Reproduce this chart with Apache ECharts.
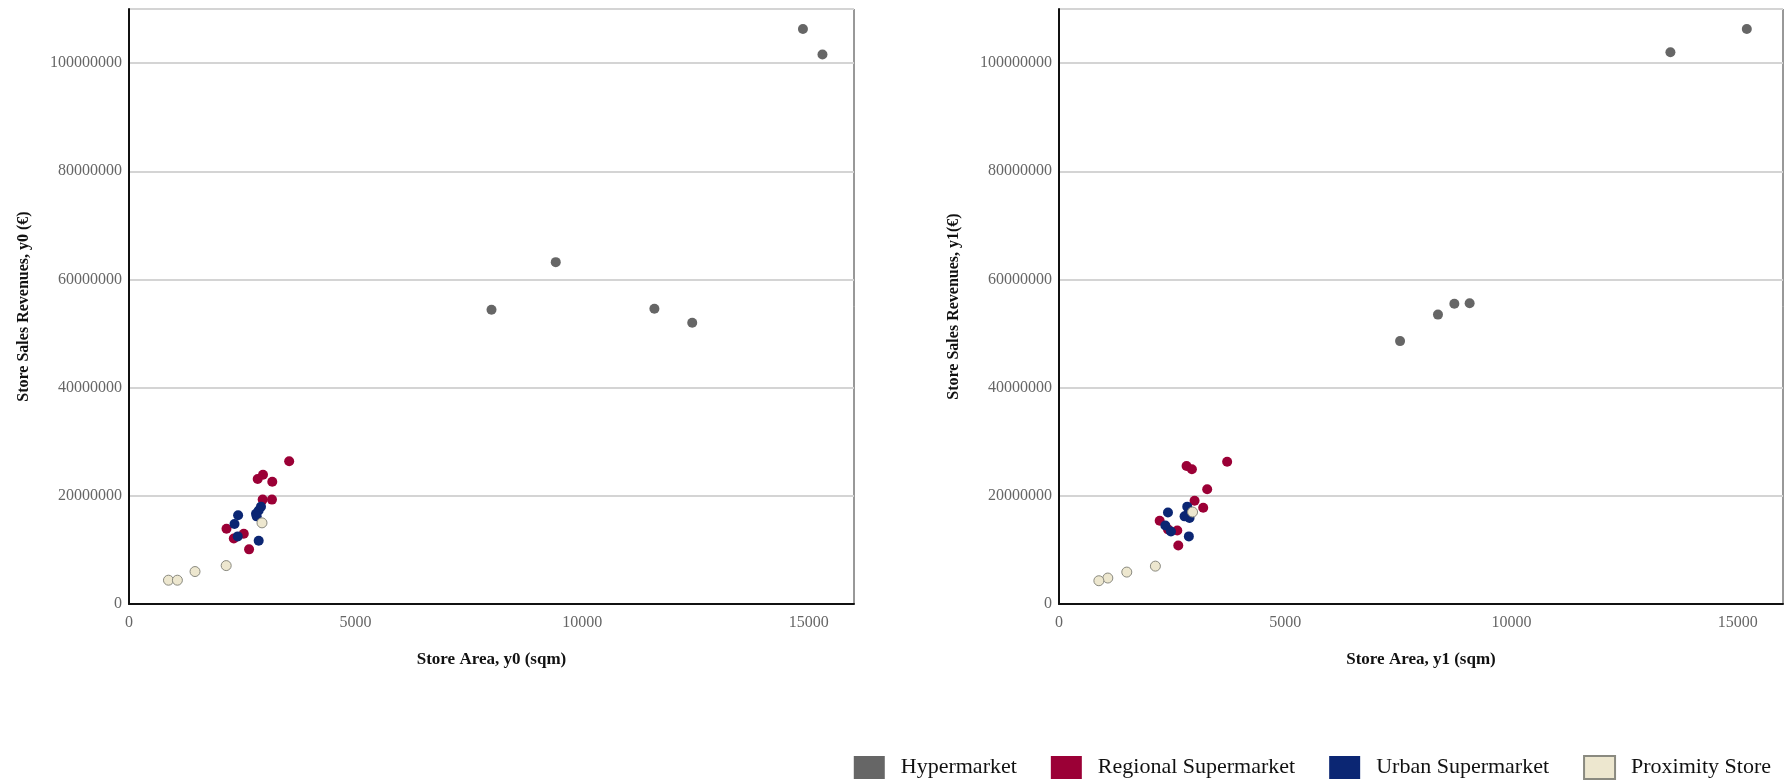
<!DOCTYPE html>
<html>
<head>
<meta charset="utf-8">
<script src="https://cdn.jsdelivr.net/npm/echarts@6/dist/echarts.min.js"></script>
<style>
html,body{margin:0;padding:0;background:#fff;}
#chart{width:1789px;height:784px;}
</style>
</head>
<body>
<div id="chart"></div>
<script>
// ---- data ----
const categories = ['Hypermarket', 'Regional Supermarket', 'Urban Supermarket', 'Proximity Store'];
const colors = ['#666666', '#9b0036', '#0b2673', '#ede7cf'];

// panel y0: [store area (sqm), revenues (€)]
const hyper0 = [[14873,106300000],[15304,101600000],[9418,63200000],[8000,54400000],[11595,54600000],[12430,52000000]];
const regional0 = [[3535,26400000],[2957,23900000],[2840,23100000],[3162,22600000],[2950,19300000],[3155,19300000],[2152,13900000],[2533,13000000],[2313,12100000],[2650,10100000]];
const urban0 = [[2408,16400000],[2328,14800000],[2913,18000000],[2862,17300000],[2803,16700000],[2818,16200000],[2400,12500000],[2862,11700000]];
const prox0 = [[2935,15000000],[2145,7100000],[1457,6000000],[871,4400000],[1068,4400000]];

// panel y1
const hyper1 = [[15200,106300000],[13512,102000000],[9075,55600000],[8737,55500000],[8375,53500000],[7537,48600000]];
const regional1 = [[3716,26300000],[2819,25500000],[2937,24900000],[3275,21200000],[2996,19100000],[3187,17800000],[2225,15400000],[2614,13600000],[2408,13800000],[2636,10800000]];
const urban1 = [[2408,16900000],[2834,18000000],[2775,16200000],[2885,15900000],[2840,16500000],[2350,14500000],[2474,13400000],[2870,12500000]];
const prox1 = [[2952,17000000],[2130,7000000],[1498,5900000],[1079,4800000],[881,4300000]];

const xTitles = ['Store Area, y0 (sqm)', 'Store Area, y1 (sqm)'];
const yTitles = ['Store Sales Revenues, y0 (€)', 'Store Sales Revenues, y1(€)'];

const panels = [[hyper0, regional0, urban0, prox0], [hyper1, regional1, urban1, prox1]];

// ---- chart ----
const FONT = '"Liberation Serif", "Times New Roman", serif';
const chart = echarts.init(document.getElementById('chart'), null, {renderer: 'canvas'});
const plain = v => String(v);

function xAxis(i) {
  return {
    type: 'value', gridIndex: i, min: 0, max: 16000, interval: 5000,
    name: xTitles[i], nameLocation: 'middle', nameGap: 47,
    nameTextStyle: {fontFamily: FONT, fontSize: 17, fontWeight: 'bold', color: '#111'},
    axisLine: {show: true, onZero: false, lineStyle: {color: '#111', width: 2}},
    axisTick: {show: false},
    axisLabel: {fontFamily: FONT, fontSize: 16, color: '#666', margin: 11, showMaxLabel: false, formatter: plain},
    splitLine: {show: false}
  };
}
function yAxis(i) {
  return {
    type: 'value', gridIndex: i, min: 0, max: 110000000, interval: 20000000,
    name: yTitles[i], nameLocation: 'middle', nameGap: 97,
    nameTextStyle: {fontFamily: FONT, fontSize: 16, fontWeight: 'bold', color: '#111'},
    axisLine: {show: true, onZero: false, lineStyle: {color: '#111', width: 2}},
    axisTick: {show: false},
    axisLabel: {fontFamily: FONT, fontSize: 16, color: '#666', margin: 7, showMaxLabel: false, formatter: plain},
    splitLine: {show: true, lineStyle: {color: '#d4d4d4', width: 2}}
  };
}

const series = [];
panels.forEach((sets, p) => {
  sets.forEach((d, k) => {
    series.push({
      name: categories[k], type: 'scatter', xAxisIndex: p, yAxisIndex: p,
      data: d, symbol: 'circle', symbolSize: 10,
      itemStyle: k === 3 ? {color: colors[k], borderColor: '#8a8a80', borderWidth: 1, opacity: 1}
                         : {color: colors[k], opacity: 1},
      emphasis: {disabled: true}
    });
  });
});

chart.setOption({
  animation: false,
  backgroundColor: '#ffffff',
  grid: [
    {left: 129, right: 935, top: 9, bottom: 180, show: true, borderColor: '#333', borderWidth: 1, backgroundColor: 'transparent'},
    {left: 1059, right: 6, top: 9, bottom: 180, show: true, borderColor: '#333', borderWidth: 1, backgroundColor: 'transparent'}
  ],
  xAxis: [xAxis(0), xAxis(1)],
  yAxis: [yAxis(0), yAxis(1)],
  legend: {
    data: categories.map(c => ({name: c, icon: 'rect'})),
    right: 13, top: 750, orient: 'horizontal',
    itemWidth: 31, itemHeight: 23, itemGap: 34,
    textStyle: {fontFamily: FONT, fontSize: 22, color: '#111', padding: [0, 0, 0, 11]}
  },
  series: series
});
</script>
</body>
</html>
